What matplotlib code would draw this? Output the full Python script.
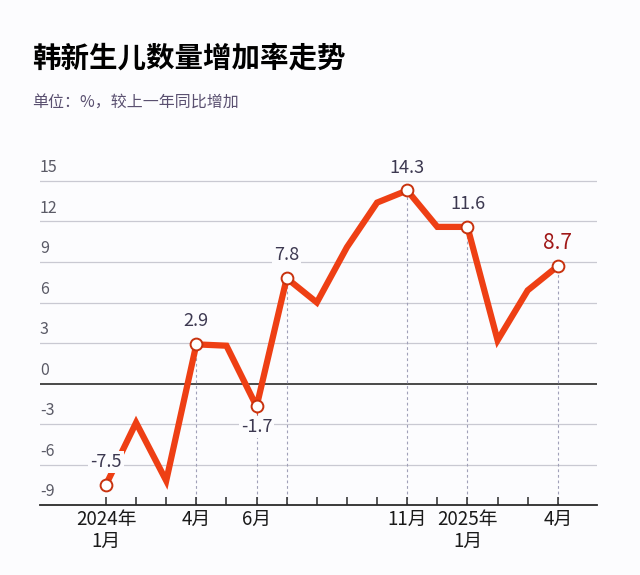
import matplotlib
matplotlib.use("Agg")
import matplotlib.pyplot as plt

plt.rcParams['font.family'] = ['Noto Sans CJK SC', 'DejaVu Sans']

# monthly change vs. previous year, Jan 2024 .. Apr 2025 (%)
months = list(range(16))
values = [-7.5, -2.9, -7.2, 2.9, 2.8, -1.7, 7.8, 6.0, 10.1, 13.4, 14.3, 11.6, 11.6, 3.2, 6.9, 8.7]
tick_labels = {0: '2024年\n1月', 3: '4月', 5: '6月', 10: '11月', 12: '2025年\n1月', 15: '4月'}
labeled = [0, 3, 5, 6, 10, 12, 15]
label_text = ['-7.5', '2.9', '-1.7', '7.8', '14.3', '11.6', '8.7']
label_below = [False, False, True, False, False, False, False]
yticks = [-9, -6, -3, 0, 3, 6, 9, 12, 15]

bg = '#fcfcfe'
line_c = '#ee3f14'

fig = plt.figure(figsize=(6.4, 5.75), dpi=100, facecolor=bg)
ax = fig.add_axes([0.0625, 0.1217, 0.8703, 0.6105], facecolor=bg)

ax.set_xlim(-2.19, 16.3)
ax.set_ylim(-9, 17)

# grid lines and y labels sitting above them
for y in yticks:
    if y == 0:
        ax.axhline(0, color='#2a2a2a', lw=1.2, zorder=1)
    elif y != -9:
        ax.axhline(y, color='#c9c9d2', lw=0.9, zorder=1)
    ax.annotate(str(y), xy=(0, y), xycoords=('axes fraction', 'data'),
                xytext=(0, 3.5), textcoords='offset points',
                ha='left', va='bottom', fontsize=11.5, color='#5a5a66')

# dashed drop lines for labeled months
for i in labeled[1:]:
    ax.plot([months[i], months[i]], [-9, values[i]], color='#a0a0b8',
            lw=0.8, ls=(0, (2.5, 2.5)), zorder=1)

ax.plot(months, values, color=line_c, lw=4.5, solid_joinstyle='miter',
        solid_capstyle='butt', zorder=3)
ax.plot([months[i] for i in labeled], [values[i] for i in labeled], 'o',
        ms=8.5, mfc='white', mec='#c8320e', mew=1.4, zorder=4)

for i, t, below in zip(labeled, label_text, label_below):
    last = (i == labeled[-1])
    ax.annotate(t, xy=(months[i], values[i]),
                xytext=(0, -15 if below else 16.5), textcoords='offset points',
                ha='center', va='center',
                fontsize=15 if last else 13,
                color='#a01818' if last else '#3c3850',
                bbox=dict(boxstyle='square,pad=0.1', fc=bg, ec='none'),
                zorder=5)

for s in ['top', 'right', 'left']:
    ax.spines[s].set_visible(False)
ax.spines['bottom'].set_color('#2a2a2a')
ax.spines['bottom'].set_linewidth(1.3)
ax.set_yticks([])
ax.set_xticks(months)
ax.set_xticklabels([tick_labels.get(m, '') for m in months], fontsize=13.5,
                   color='#1a1a1a', linespacing=1.05)
ax.tick_params(axis='x', direction='in', length=6, width=1.1, color='#2a2a2a', pad=3)

fig.text(0.05, 0.898, '韩新生儿数量增加率走势', fontsize=20.5, fontweight='heavy',
         color='#000000', va='center', ha='left')
fig.text(0.05, 0.82, '单位：%，较上一年同比增加', fontsize=11.5,
         color='#5a5070', va='center', ha='left')

fig.savefig('out.png', dpi=100, facecolor=bg)
